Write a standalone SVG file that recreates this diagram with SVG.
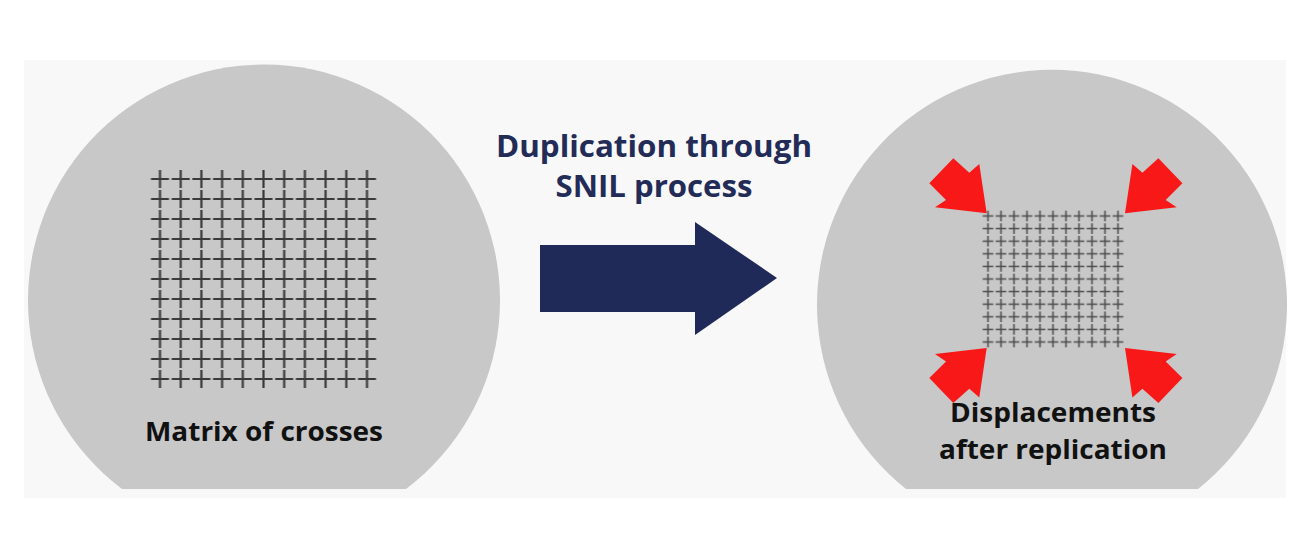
<svg xmlns="http://www.w3.org/2000/svg" width="1305" height="540" viewBox="0 0 1305 540">
  <style>
    .wafer { fill: #c8c8c8; }
    .label { font-family: "Open Sans", "Noto Sans", "Liberation Sans", sans-serif; font-weight: 700; text-anchor: middle; }
    .dark { fill: #111111; font-size: 27px; }
    .title { fill: #232c57; font-size: 31px; }
    .red { fill: #f81818; }
  </style>
  <defs>
    <pattern id="crossBig" patternUnits="userSpaceOnUse" x="149.65" y="169" width="20.7" height="20">
      <path d="M1.35 10 H19.35 M10.35 1 V19" stroke="#3a3a3a" stroke-width="2.2" fill="none"/>
    </pattern>
    <pattern id="crossSmall" patternUnits="userSpaceOnUse" x="981.5" y="209.7" width="13" height="12.6">
      <path d="M1.2 6.3 H11.8 M6.5 1 V11.6" stroke="#4a4a4a" stroke-width="1.5" fill="none"/>
    </pattern>
    <polygon id="redArrow" points="986.7,213.3 935,207.3 946,200 929.3,183.3 953.3,158.3 969.3,172.7 979.3,164"/>
  </defs>

  <rect x="0" y="0" width="1305" height="540" fill="#ffffff"/>
  <rect x="24" y="60" width="1262" height="438" fill="#f8f8f8"/>

  <g id="wafer-left">
    <path class="wafer" d="M122 489 A236 236 0 1 1 406 489 Z"/>
    <rect x="149.65" y="169" width="227.7" height="220" fill="url(#crossBig)"/>
    <text class="label dark" x="264" y="441" textLength="238" lengthAdjust="spacingAndGlyphs">Matrix of crosses</text>
  </g>

  <g id="wafer-right">
    <path class="wafer" d="M906 489 A235 235 0 1 1 1198 489 Z"/>
    <rect x="981.5" y="209.7" width="143" height="138.6" fill="url(#crossSmall)"/>
    <g class="red">
      <use href="#redArrow"/>
      <use href="#redArrow" transform="translate(2111.7 0) scale(-1 1)"/>
      <use href="#redArrow" transform="translate(0 561.4) scale(1 -1)"/>
      <use href="#redArrow" transform="translate(2111.7 561.4) scale(-1 -1)"/>
    </g>
    <text class="label dark" x="1053" y="422" textLength="206" lengthAdjust="spacingAndGlyphs">Displacements</text>
    <text class="label dark" x="1053" y="459" textLength="228" lengthAdjust="spacingAndGlyphs">after replication</text>
  </g>

  <g id="title">
    <text class="label title" x="654" y="157" textLength="316" lengthAdjust="spacingAndGlyphs">Duplication through</text>
    <text class="label title" x="654" y="197" textLength="197" lengthAdjust="spacingAndGlyphs">SNIL process</text>
  </g>

  <g id="connectors">
    <polygon fill="#202a58" points="540,245 695,245 695,222 777,278 695,335 695,312 540,312"/>
  </g>
</svg>
